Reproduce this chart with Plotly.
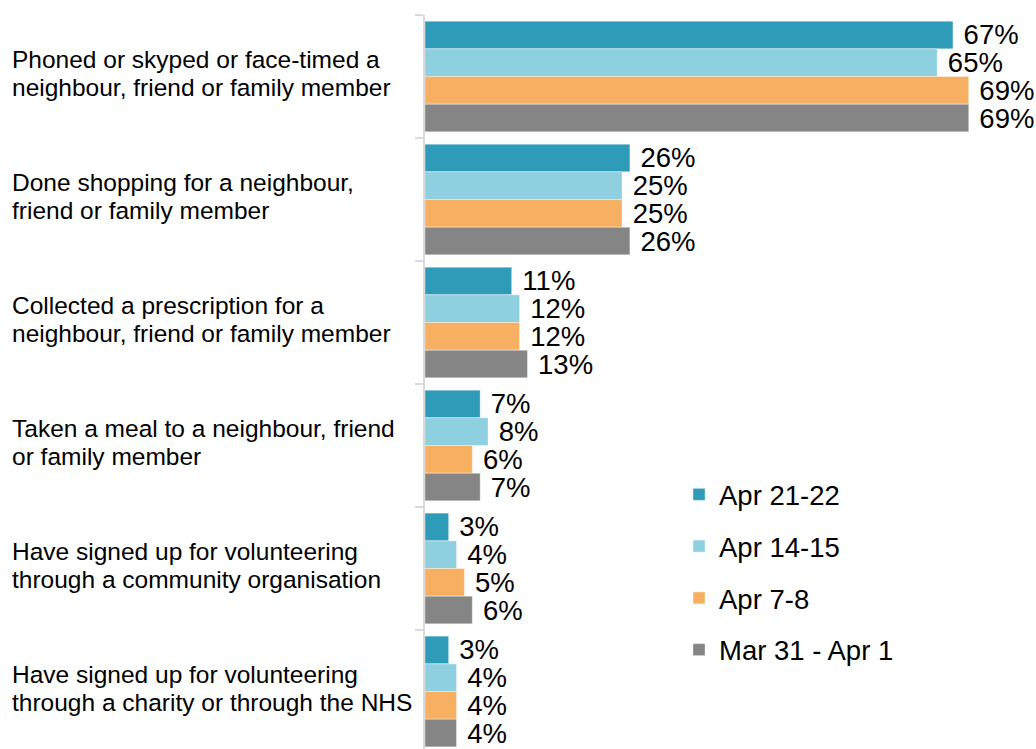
import plotly.graph_objects as go

categories = [
    "Phoned or skyped or face-timed a<br>neighbour, friend or family member",
    "Done shopping for a neighbour,<br>friend or family member",
    "Collected a prescription for a<br>neighbour, friend or family member",
    "Taken a meal to a neighbour, friend<br>or family member",
    "Have signed up for volunteering<br>through a community organisation",
    "Have signed up for volunteering<br>through a charity or through the NHS",
]
series_names = ["Apr 21-22", "Apr 14-15", "Apr 7-8", "Mar 31 - Apr 1"]
apr21_22 = [67, 26, 11, 7, 3, 3]
apr14_15 = [65, 25, 12, 8, 4, 4]
apr7_8 = [69, 25, 12, 6, 5, 4]
mar31_apr1 = [69, 26, 13, 7, 6, 4]
series_values = [apr21_22, apr14_15, apr7_8, mar31_apr1]
colors = ["#2E9CB9", "#8FD0E0", "#F7B062", "#858585"]

FONT = "Liberation Sans, Arial, sans-serif"
W, H = 1036, 749
ML, MT = 425, 15
plot_w = W - ML
plot_h = H - MT
px_per_pct = 7.88
cat_px = 123.0

fig = go.Figure()
for i, (name, vals) in enumerate(zip(series_names, series_values)):
    fig.add_trace(go.Bar(
        y=categories, x=vals, orientation="h", name=name,
        marker=dict(color=colors[i], line=dict(width=0.6, color="rgba(255,255,255,0.6)")),
        text=vals, texttemplate="\u00a0%{x}%", textposition="outside",
        textfont=dict(family=FONT, size=27.5, color="#000000"),
        constraintext="none", cliponaxis=False,
        legendgroup=name, hoverinfo="skip",
    ))

for c in categories:
    lines = c.split("<br>")
    for j, ln in enumerate(lines):
        fig.add_annotation(
            x=(10 - ML) / plot_w, xref="paper", y=c, yref="y",
            text=ln, showarrow=False, xanchor="left", align="left",
            yanchor="middle", yshift=17 - 28 * j,
            font=dict(family=FONT, size=24.5, color="#000000"),
        )

fig.update_layout(
    width=W, height=H,
    margin=dict(l=ML, r=0, t=MT, b=0, pad=0, autoexpand=False),
    paper_bgcolor="white", plot_bgcolor="white",
    barmode="group", bargap=0.1, bargroupgap=0,
    showlegend=True,
    legend=dict(
        x=(679 - ML) / plot_w, y=1 - (470 - MT) / plot_h,
        xanchor="left", yanchor="top",
        font=dict(family=FONT, size=27.5, color="#000000"),
        tracegroupgap=13, bgcolor="rgba(0,0,0,0)",
        itemwidth=30,
    ),
    xaxis=dict(range=[0, plot_w / px_per_pct], visible=False, fixedrange=True,
               automargin=False),
    yaxis=dict(
        range=[-0.5 + plot_h / cat_px, -0.5],
        showticklabels=False, showgrid=False, zeroline=False,
        showline=True, linecolor="#D9D9D9", linewidth=1.5,
        ticks="outside", ticklen=8, tickcolor="#D9D9D9", tickwidth=1.5,
        tickson="boundaries", automargin=False, fixedrange=True,
    ),
)

fig.write_html(
    "out.html",
    config={"displayModeBar": False},
    post_script="document.body.style.margin='0';document.body.style.overflow='hidden';",
)
